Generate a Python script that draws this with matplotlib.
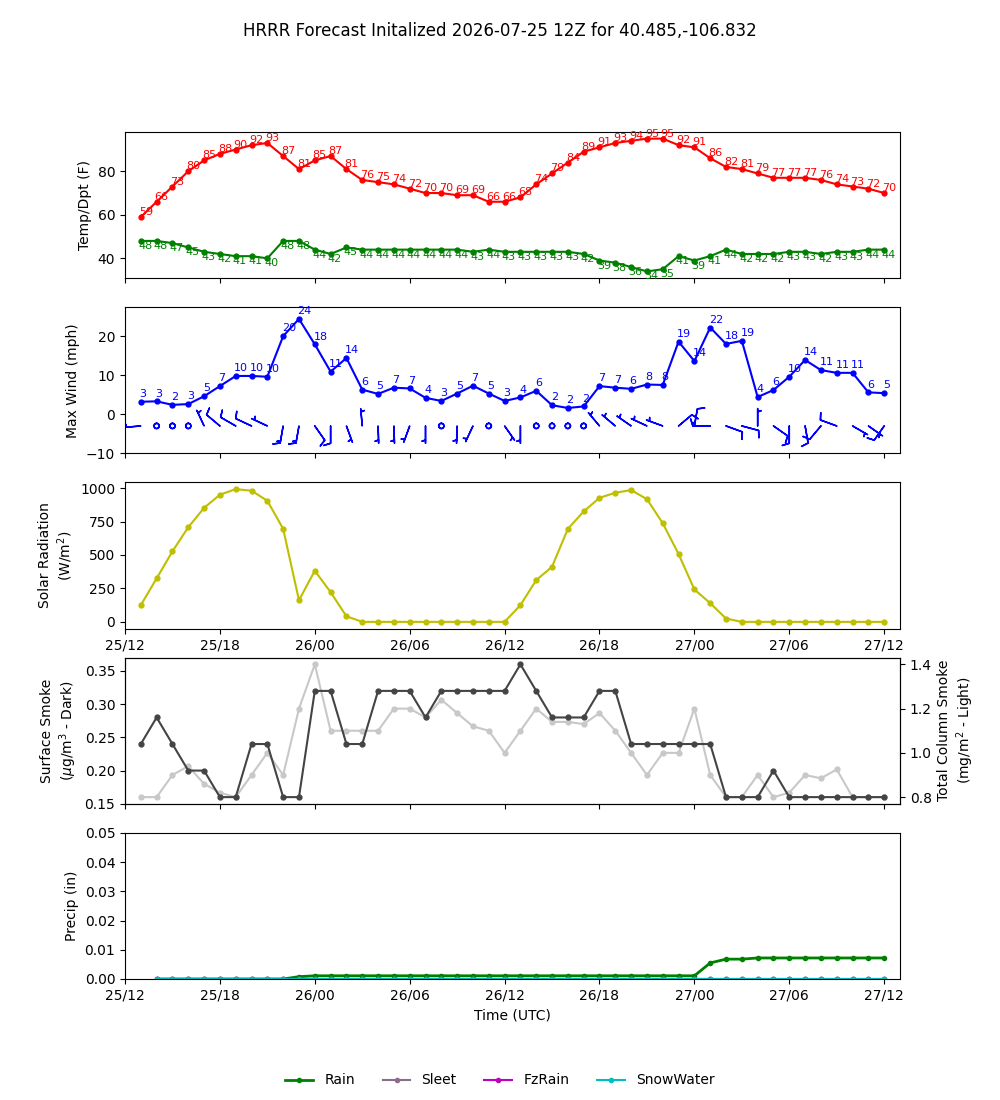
import datetime as dt

import numpy as np
import matplotlib
matplotlib.use("Agg")
import matplotlib.pyplot as plt  # noqa: E402
import matplotlib.dates as mdates  # noqa: E402

INIT = dt.datetime(2026, 7, 25, 12)
TITLE = "HRRR Forecast Initalized 2026-07-25 12Z for 40.485,-106.832"

# forecast hours 1..48
fhours = list(range(1, 49))

temp = [59, 66, 73, 80, 85, 88, 90, 92, 93, 87, 81, 85, 87, 81, 76, 75, 74, 72, 70, 70,
        69, 69, 66, 66, 68, 74, 79, 84, 89, 91, 93, 94, 95, 95, 92, 91, 86, 82, 81, 79,
        77, 77, 77, 76, 74, 73, 72, 70]
dwpt = [48, 48, 47, 45, 43, 42, 41, 41, 40, 48, 48, 44, 42, 45, 44, 44, 44, 44, 44, 44,
        44, 43, 44, 43, 43, 43, 43, 43, 42, 39, 38, 36, 34, 35, 41, 39, 41, 44, 42, 42,
        42, 43, 43, 42, 43, 43, 44, 44]

max_wind = [3.2, 3.3, 2.4, 2.6, 4.6, 7.2, 9.8, 9.8, 9.6, 20.0, 24.4, 17.9, 10.9, 14.4,
            6.3, 5.2, 6.8, 6.6, 4.2, 3.4, 5.3, 7.3, 5.3, 3.4, 4.3, 6.0, 2.3, 1.6, 2.0,
            7.2, 6.8, 6.5, 7.6, 7.5, 18.6, 13.6, 22.2, 18.0, 18.8, 4.4, 6.2, 9.6, 13.9,
            11.3, 10.6, 10.6, 5.6, 5.4]
# barb wind: direction (deg, from) and speed
wind_dir = [265, 0, 0, 0, 335, 310, 300, 295, 295, 190, 190, 145, 180, 160, 355, 178,
            178, 200, 180, 0, 182, 205, 0, 145, 180, 0, 0, 0, 0, 320, 310, 305, 295, 290,
            50, 10, 270, 110, 105, 0, 125, 180, 170, 220, 290, 120, 125, 215]
wind_spd = [5, 0, 0, 0, 5, 10, 10, 10, 5, 15, 15, 10, 10, 5, 5, 5, 5, 5, 5, 0, 5, 5, 0,
            5, 5, 0, 0, 0, 0, 5, 5, 5, 5, 5, 10, 10, 15, 10, 10, 5, 10, 10, 10, 10, 10,
            5, 5, 10]

solar = [125, 325, 527, 707, 852, 950, 992, 980, 905, 695, 162, 382, 222, 42, 0, 0, 0,
         0, 0, 0, 0, 0, 0, 0, 125, 312, 412, 695, 825, 927, 965, 985, 917, 737, 507, 242,
         140, 25, 0, 0, 0, 0, 0, 0, 0, 0, 0, 0]

smoke_sfc = [0.24, 0.28, 0.24, 0.20, 0.20, 0.16, 0.16, 0.24, 0.24, 0.16, 0.16, 0.32,
             0.32, 0.24, 0.24, 0.32, 0.32, 0.32, 0.28, 0.32, 0.32, 0.32, 0.32, 0.32,
             0.36, 0.32, 0.28, 0.28, 0.28, 0.32, 0.32, 0.24, 0.24, 0.24, 0.24, 0.24,
             0.24, 0.16, 0.16, 0.16, 0.20, 0.16, 0.16, 0.16, 0.16, 0.16, 0.16, 0.16]
smoke_col = [0.80, 0.80, 0.90, 0.94, 0.86, 0.82, 0.80, 0.90, 1.00, 0.90, 1.20, 1.40,
             1.10, 1.10, 1.10, 1.10, 1.20, 1.20, 1.16, 1.24, 1.18, 1.12, 1.10, 1.00,
             1.10, 1.20, 1.14, 1.14, 1.13, 1.18, 1.10, 1.00, 0.90, 1.00, 1.00, 1.20,
             0.90, 0.80, 0.80, 0.90, 0.80, 0.82, 0.90, 0.885, 0.925, 0.80, 0.80, 0.80]

# precip starts at forecast hour 2
pcp_hours = list(range(2, 49))
rain = [0.0, 0.0, 0.0, 0.0, 0.0, 0.0, 0.0, 0.0, 0.0, 0.0008, 0.0011, 0.0011, 0.0011,
        0.0011, 0.0011, 0.0011, 0.0011, 0.0011, 0.0011, 0.0011, 0.0011, 0.0011, 0.0011,
        0.0011, 0.0011, 0.0011, 0.0011, 0.0011, 0.0011, 0.0011, 0.0011, 0.0011, 0.0011,
        0.0011, 0.0011, 0.0055, 0.0068, 0.0068, 0.0072, 0.0072, 0.0072, 0.0072, 0.0072,
        0.0072, 0.0072, 0.0072, 0.0072]
sleet = [0.0, 0.0, 0.0, 0.0, 0.0, 0.0, 0.0, 0.0, 0.0, 0.0, 0.0, 0.0, 0.0, 0.0, 0.0, 0.0,
         0.0, 0.0, 0.0, 0.0, 0.0, 0.0, 0.0, 0.0, 0.0, 0.0, 0.0, 0.0, 0.0, 0.0, 0.0, 0.0,
         0.0, 0.0, 0.0, 0.0, 0.0, 0.0, 0.0, 0.0, 0.0, 0.0, 0.0, 0.0, 0.0, 0.0, 0.0]
fzrain = [0.0, 0.0, 0.0, 0.0, 0.0, 0.0, 0.0, 0.0, 0.0, 0.0, 0.0, 0.0, 0.0, 0.0, 0.0, 0.0,
          0.0, 0.0, 0.0, 0.0, 0.0, 0.0, 0.0, 0.0, 0.0, 0.0, 0.0, 0.0, 0.0, 0.0, 0.0, 0.0,
          0.0, 0.0, 0.0, 0.0, 0.0, 0.0, 0.0, 0.0, 0.0, 0.0, 0.0, 0.0, 0.0, 0.0, 0.0]
snowwater = [0.0, 0.0, 0.0, 0.0, 0.0, 0.0, 0.0, 0.0, 0.0, 0.0, 0.0, 0.0, 0.0, 0.0, 0.0,
             0.0, 0.0, 0.0, 0.0, 0.0, 0.0, 0.0, 0.0, 0.0, 0.0, 0.0, 0.0, 0.0, 0.0, 0.0,
             0.0, 0.0, 0.0, 0.0, 0.0, 0.0, 0.0, 0.0, 0.0, 0.0, 0.0, 0.0, 0.0, 0.0, 0.0,
             0.0, 0.0]


def main() -> None:
    times = [INIT + dt.timedelta(hours=h) for h in fhours]
    ptimes = [INIT + dt.timedelta(hours=h) for h in pcp_hours]
    tnum = mdates.date2num(times)

    fig, axes = plt.subplots(5, 1, sharex=True, figsize=(10, 11))
    ax1, ax2, ax3, ax4, ax5 = axes
    fig.suptitle(TITLE, fontsize=12)

    # temp / dewpoint
    ax1.plot(times, temp, "r-", marker="o", ms=3.5, lw=1.5)
    ax1.plot(times, dwpt, "g-", marker="o", ms=3.5, lw=1.5)
    for t, v in zip(times, temp):
        ax1.annotate(f"{v}", (t, v), xytext=(-1.5, 0), textcoords="offset points",
                     ha="left", va="bottom", fontsize=8, color="r")
    for t, v in zip(times, dwpt):
        ax1.annotate(f"{v}", (t, v), xytext=(-2, 0), textcoords="offset points",
                     ha="left", va="top", fontsize=8, color="g")
    ax1.set_ylabel("Temp/Dpt (F)")

    # wind
    ax2.plot(times, max_wind, "b-", marker="o", ms=3.5, lw=1.5)
    for t, v in zip(times, max_wind):
        ax2.annotate(f"{round(v)}", (t, v), xytext=(-1, 2), textcoords="offset points",
                     ha="left", va="bottom", fontsize=8, color="b")
    rad = np.deg2rad(wind_dir)
    u = -np.array(wind_spd) * np.sin(rad)
    v = -np.array(wind_spd) * np.cos(rad)
    ax2.barbs(tnum, np.full(len(tnum), -3.0), u, v, color="b", length=5, lw=1.1)
    ax2.set_ylim(-10, max(max_wind) + 3)
    ax2.set_ylabel("Max Wind (mph)")

    # solar
    ax3.plot(times, solar, color="y", marker="o", ms=3.5, lw=1.5)
    ax3.set_ylabel("Solar Radiation\n(W/m$^2$)")
    ax3.tick_params(labelbottom=True)

    # smoke
    ax4.plot(times, smoke_sfc, color="#444444", marker="o", ms=3.5, lw=1.5, zorder=3)
    ax4.set_ylabel("Surface Smoke\n($\\mu$g/m$^3$ - Dark)")
    ax4b = ax4.twinx()
    ax4b.plot(times, smoke_col, color="#c8c8c8", marker="o", ms=3.5, lw=1.5)
    ax4b.set_ylabel("Total Column Smoke\n(mg/m$^2$ - Light)")
    ax4.set_zorder(ax4b.get_zorder() + 1)
    ax4.patch.set_visible(False)

    # precip
    ax5.plot(ptimes, rain, color="g", marker="o", ms=3, lw=2, label="Rain")
    ax5.plot(ptimes, sleet, color="#8a6d8b", marker="o", ms=3, lw=1.5, label="Sleet")
    ax5.plot(ptimes, fzrain, color="m", marker="o", ms=3, lw=1.5, label="FzRain")
    ax5.plot(ptimes, snowwater, color="c", marker="o", ms=3, lw=1.5, label="SnowWater")
    ax5.set_ylim(0, 0.05)
    ax5.set_ylabel("Precip (in)")
    ax5.set_xlabel("Time (UTC)")

    ax5.set_xlim(INIT, INIT + dt.timedelta(hours=49))
    ax5.xaxis.set_major_locator(mdates.HourLocator(byhour=[0, 6, 12, 18]))
    ax5.xaxis.set_major_formatter(mdates.DateFormatter("%d/%H"))

    fig.legend(*ax5.get_legend_handles_labels(), loc="lower center", ncol=4,
               frameon=False)
    fig.savefig("out.png", dpi=100)


if __name__ == "__main__":
    main()
